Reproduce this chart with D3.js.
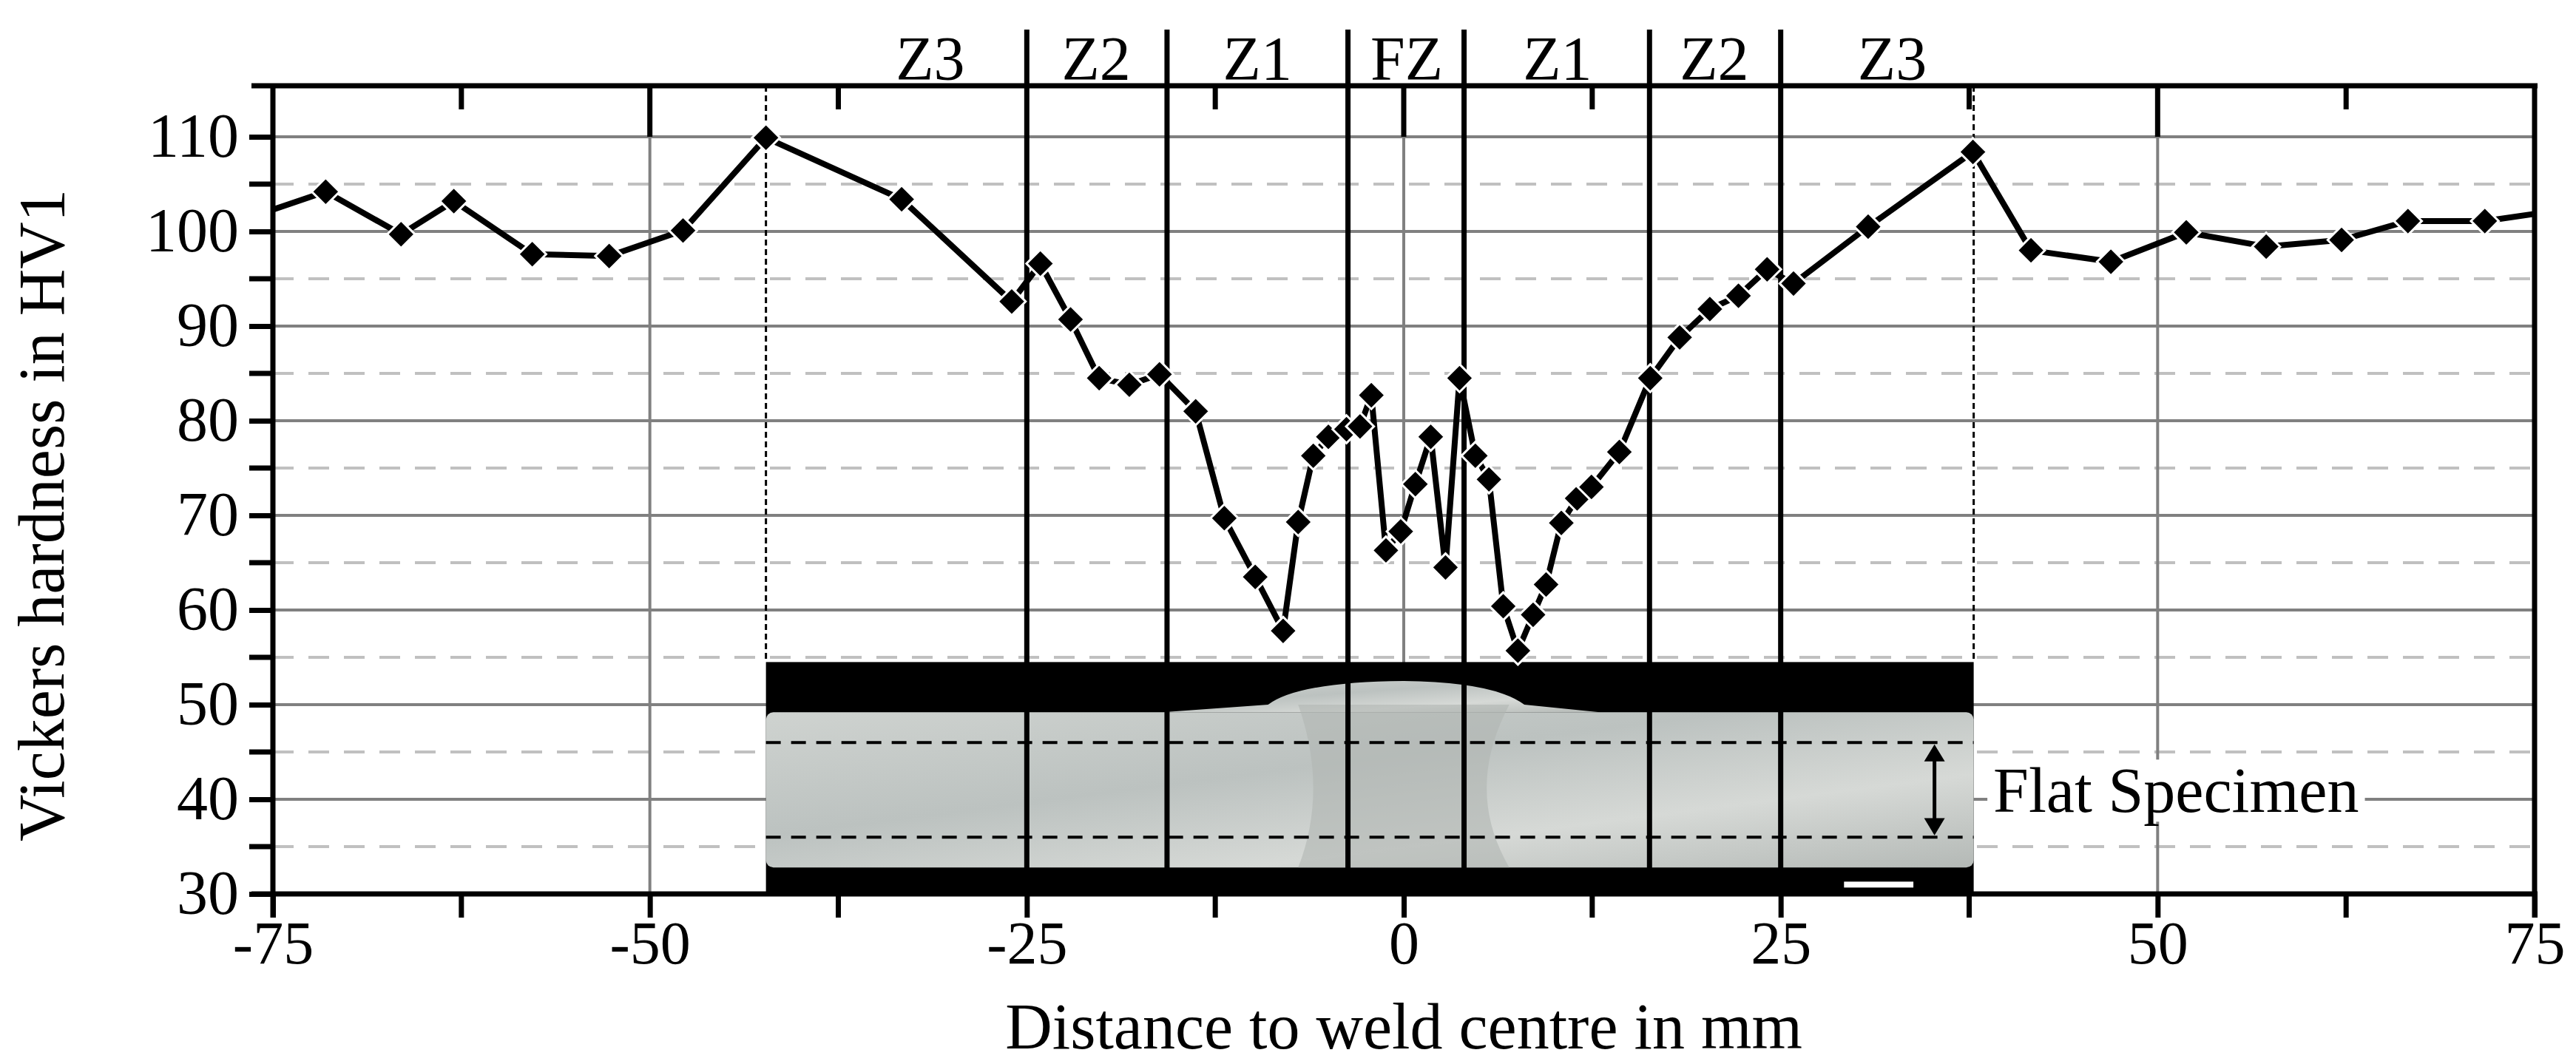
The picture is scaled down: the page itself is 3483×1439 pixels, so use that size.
<!DOCTYPE html>
<html><head><meta charset="utf-8">
<script src="https://cdn.jsdelivr.net/npm/d3@7"></script>
<style>body{margin:0;background:#fff}svg{display:block}</style>
</head><body><svg id="chart"></svg>
<script>
// hardness profile
const distance = [-76.5, -71.5, -66.5, -63, -57.8, -52.7, -47.8, -42.3, -33.3, -26.0, -24.1, -22.1, -20.2, -18.2, -16.2, -13.8, -11.9, -9.85, -8.0, -7.0, -6.0, -5.0, -3.8, -2.9, -2.15, -1.18, -0.2, 0.77, 1.79, 2.77, 3.7, 4.75, 5.65, 6.6, 7.57, 8.58, 9.44, 10.45, 11.5, 12.45, 14.3, 16.35, 18.3, 20.3, 22.2, 24.1, 25.85, 30.8, 37.75, 41.6, 46.9, 51.9, 57.2, 62.2, 66.6, 71.7, 76.5];
const hardness = [101.5, 104.2, 99.7, 103.2, 97.6, 97.4, 100.1, 109.9, 103.4, 92.6, 96.6, 90.7, 84.5, 83.8, 84.9, 81.0, 69.7, 63.5, 57.8, 69.3, 76.3, 78.3, 79.1, 79.4, 82.7, 66.3, 68.3, 73.3, 78.3, 64.5, 84.5, 76.3, 73.8, 60.4, 55.7, 59.5, 62.7, 69.2, 71.8, 73.0, 76.7, 84.5, 88.8, 91.8, 93.2, 96.0, 94.5, 100.5, 108.4, 98.0, 96.8, 99.9, 98.4, 99.1, 101.1, 101.1, 102.2];
const zoneBounds = [-25, -15.7, -3.7, 4.0, 16.3, 25];
const zoneLabels = ["Z3", "Z2", "Z1", "FZ", "Z1", "Z2", "Z3"];
const zoneLabelX = [-31.4, -20.4, -9.7, 0.2, 10.2, 20.6, 32.4];
const specimenEdges = [-42.3, 37.8];
const xTicks = [-75, -50, -25, 0, 25, 50, 75];
const yTicks = [30, 40, 50, 60, 70, 80, 90, 100, 110];

const W = 3483, H = 1439;
const svg = d3.select("#chart").attr("width", W).attr("height", H);
const font = "'Liberation Serif', 'DejaVu Serif', serif";

const x = d3.scaleLinear().domain([-75, 75]).range([369, 3427]);
const y = d3.scaleLinear().domain([30, 110]).range([1209, 185]);
const yTop = y(115.4);

const defs = svg.append("defs");
defs.append("clipPath").attr("id", "plot").append("rect")
  .attr("x", x(-75)).attr("y", yTop).attr("width", x(75) - x(-75)).attr("height", y(30) - yTop);
const grad = defs.append("linearGradient").attr("id", "metal").attr("x1", 0).attr("x2", 1).attr("y1", 0).attr("y2", 1);
grad.append("stop").attr("offset", "0").attr("stop-color", "#cfd3d0");
grad.append("stop").attr("offset", "0.4").attr("stop-color", "#bcc2c0");
grad.append("stop").attr("offset", "0.7").attr("stop-color", "#d6d9d6");
grad.append("stop").attr("offset", "1").attr("stop-color", "#b4b9b6");

// grid
const grid = svg.append("g");
d3.range(35, 115, 10).forEach(v => grid.append("line")
  .attr("x1", x(-75)).attr("x2", x(75)).attr("y1", y(v)).attr("y2", y(v))
  .attr("stroke", "#c0c0c0").attr("stroke-width", 4).attr("stroke-dasharray", "28,20"));
yTicks.slice(1).forEach(v => grid.append("line")
  .attr("x1", x(-75)).attr("x2", x(75)).attr("y1", y(v)).attr("y2", y(v))
  .attr("stroke", "#808080").attr("stroke-width", 4));
xTicks.slice(1, -1).forEach(v => grid.append("line")
  .attr("x1", x(v)).attr("x2", x(v)).attr("y1", y(110)).attr("y2", y(30))
  .attr("stroke", "#808080").attr("stroke-width", 4));

// specimen photo
const ph = svg.append("g");
const sx0 = x(specimenEdges[0]), sx1 = x(specimenEdges[1]);
ph.append("rect").attr("x", sx0).attr("y", y(54.5)).attr("width", sx1 - sx0).attr("height", y(30) - y(54.5)).attr("fill", "#000");
ph.append("rect").attr("x", sx0).attr("y", y(49.2)).attr("width", sx1 - sx0).attr("height", y(32.8) - y(49.2))
  .attr("fill", "url(#metal)").attr("rx", 10);
ph.append("path").attr("fill", "url(#metal)")
  .attr("d", `M${x(-16)},${y(49.2)} L${x(-9)},${y(50)} Q${x(-7)},${y(52.4)} ${x(0)},${y(52.5)} Q${x(6)},${y(52.4)} ${x(8)},${y(50)} L${x(13)},${y(49.2)} Z`);
ph.append("path").attr("fill", "#b0b5b2").attr("opacity", 0.6)
  .attr("d", `M${x(-7)},${y(32.8)} Q${x(-5)},${y(41)} ${x(-7)},${y(50)} L${x(7)},${y(50)} Q${x(4)},${y(41)} ${x(7)},${y(32.8)} Z`);
ph.append("rect").attr("x", x(29.2)).attr("y", y(31.3)).attr("width", x(33.8) - x(29.2)).attr("height", 8).attr("fill", "#fff");
[46, 36].forEach(v => ph.append("line")
  .attr("x1", sx0).attr("x2", sx1).attr("y1", y(v)).attr("y2", y(v))
  .attr("stroke", "#000").attr("stroke-width", 4).attr("stroke-dasharray", "20,14"));
// double arrow
const ax = x(35.2);
ph.append("line").attr("x1", ax).attr("x2", ax).attr("y1", y(45)).attr("y2", y(37)).attr("stroke", "#000").attr("stroke-width", 5);
ph.append("path").attr("d", `M${ax - 14},${y(44)} L${ax},${y(45.8)} L${ax + 14},${y(44)} Z`).attr("fill", "#000");
ph.append("path").attr("d", `M${ax - 14},${y(38)} L${ax},${y(36.2)} L${ax + 14},${y(38)} Z`).attr("fill", "#000");
const lab = ph.append("text").attr("x", x(39.1)).attr("y", y(41)).attr("dy", "0.35em")
  .attr("font-family", font).attr("font-size", 86).text("Flat Specimen");
const bb = lab.node().getBBox();
ph.insert("rect", "text").attr("x", bb.x - 8).attr("y", bb.y + 6).attr("width", bb.width + 16).attr("height", bb.height - 12).attr("fill", "#fff");

// specimen edge dotted lines
specimenEdges.forEach(v => svg.append("line")
  .attr("x1", x(v)).attr("x2", x(v)).attr("y1", yTop).attr("y2", y(54.5))
  .attr("stroke", "#000").attr("stroke-width", 3).attr("stroke-dasharray", "8,5"));

// zone boundaries
zoneBounds.forEach(v => svg.append("line")
  .attr("x1", x(v)).attr("x2", x(v)).attr("y1", 40).attr("y2", y(30))
  .attr("stroke", "#000").attr("stroke-width", 7));
zoneLabels.forEach((t, i) => svg.append("text")
  .attr("x", x(zoneLabelX[i])).attr("y", 108).attr("text-anchor", "middle")
  .attr("font-family", font).attr("font-size", 84).text(t));

// axes frame and ticks
const ax0 = svg.append("g").attr("stroke", "#000").attr("stroke-width", 7);
ax0.append("line").attr("x1", 340).attr("x2", x(75) + 4).attr("y1", yTop).attr("y2", yTop);
ax0.append("line").attr("x1", 340).attr("x2", x(75) + 4).attr("y1", y(30)).attr("y2", y(30));
ax0.append("line").attr("x1", x(-75)).attr("x2", x(-75)).attr("y1", yTop).attr("y2", y(30) + 32);
ax0.append("line").attr("x1", x(75)).attr("x2", x(75)).attr("y1", yTop).attr("y2", y(30) + 32);

const xAxis = svg.append("g").attr("transform", `translate(0,${y(30)})`)
  .call(d3.axisBottom(x).tickValues(xTicks).tickSize(32).tickPadding(4).tickFormat(d => String(d)));
xAxis.select(".domain").remove();
xAxis.selectAll("line").attr("stroke-width", 7);
xAxis.selectAll("text").attr("font-family", font).attr("font-size", 82).attr("fill", "#000");
const minorX = d3.range(-62.5, 75, 25);
minorX.forEach(v => {
  svg.append("line").attr("x1", x(v)).attr("x2", x(v)).attr("y1", y(30)).attr("y2", y(30) + 32).attr("stroke", "#000").attr("stroke-width", 7);
  svg.append("line").attr("x1", x(v)).attr("x2", x(v)).attr("y1", yTop).attr("y2", yTop + 32).attr("stroke", "#000").attr("stroke-width", 7);
});
[-50, 0, 50].forEach(v => svg.append("line").attr("x1", x(v)).attr("x2", x(v)).attr("y1", yTop).attr("y2", y(110))
  .attr("stroke", "#000").attr("stroke-width", 7));

const yAxis = svg.append("g").attr("transform", `translate(${x(-75)},0)`)
  .call(d3.axisLeft(y).tickValues(yTicks).tickSize(32).tickPadding(14));
yAxis.select(".domain").remove();
yAxis.selectAll("line").attr("stroke-width", 7);
yAxis.selectAll("text").attr("font-family", font).attr("font-size", 84).attr("fill", "#000");
d3.range(35, 115, 10).forEach(v => {
  svg.append("line").attr("x1", x(-75) - 32).attr("x2", x(-75)).attr("y1", y(v)).attr("y2", y(v)).attr("stroke", "#000").attr("stroke-width", 7);
});

svg.append("text").attr("x", (x(-75) + x(75)) / 2).attr("y", 1418).attr("text-anchor", "middle")
  .attr("font-family", font).attr("font-size", 88).text("Distance to weld centre in mm");
svg.append("text").attr("transform", `translate(86,${(y(30) + y(110)) / 2 + 0}) rotate(-90)`).attr("text-anchor", "middle")
  .attr("font-family", font).attr("font-size", 88).text("Vickers hardness in HV1");

// data line and markers
const pts = distance.map((d, i) => [d, hardness[i]]);
const data = svg.append("g").attr("clip-path", "url(#plot)");
data.append("path").datum(pts)
  .attr("d", d3.line().x(d => x(d[0])).y(d => y(d[1])))
  .attr("fill", "none").attr("stroke", "#000").attr("stroke-width", 8).attr("stroke-linejoin", "round");
data.selectAll("path.m").data(pts).join("path").attr("class", "m")
  .attr("transform", d => `translate(${x(d[0])},${y(d[1])})`)
  .attr("d", d3.symbol(d3.symbolDiamond2, 900))
  .attr("fill", "#000").attr("stroke", "#fff").attr("stroke-width", 3);
</script></body></html>
